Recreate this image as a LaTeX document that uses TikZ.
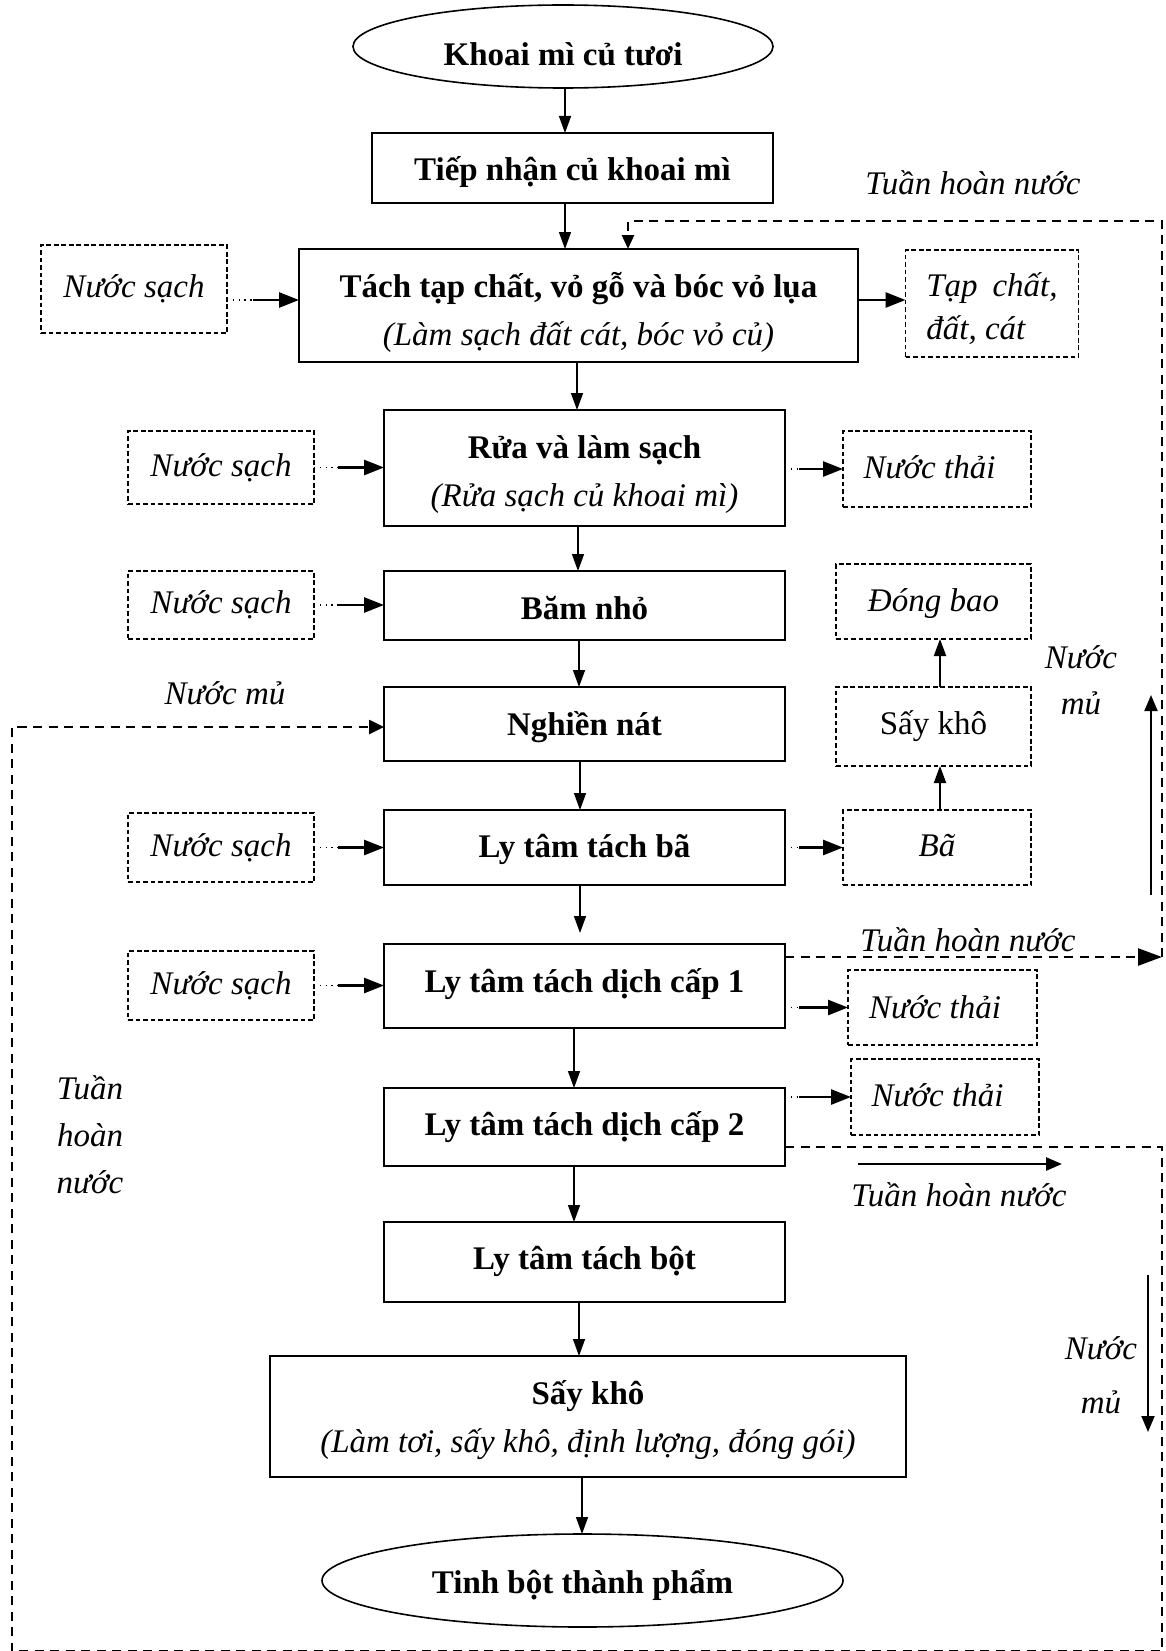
\documentclass[tikz,border=0pt]{standalone}
\usepackage{fontspec}
\setmainfont{Liberation Serif}
\usetikzlibrary{arrows.meta,shapes.geometric,calc}
\newcommand\dgfs{\fontsize{33}{48}\selectfont}
\newcommand\dgdown[2]{\raisebox{-#1}[\height][\depth]{#2}}
\begin{document}
\begin{tikzpicture}[x=1pt,y=-1pt,
  every node/.style={inner sep=0pt, outer sep=0pt},
  mainbox/.style={draw, line width=1.6pt, minimum width=401pt, align=center, font=\dgfs\bfseries},
  oval/.style={draw, ellipse, line width=1.6pt, align=center, font=\dgfs\bfseries},
  dbox/.style={draw, line width=1.3pt, dash pattern=on 4.7pt off 2.8pt, align=center, font=\dgfs\itshape},
  lbl/.style={align=center, font=\dgfs\itshape},
  flow/.style={line width=1.5pt, -{Triangle[length=17pt,width=12pt]}},
  dotl/.style={line width=1.3pt, dash pattern=on 1.3pt off 4.5pt},
  fat/.style={line width=2.7pt, -{Triangle[length=20pt,width=15pt]}},
  loopl/.style={line width=2.6pt, dash pattern=on 9pt off 6.5pt},
  sarr/.style={line width=2pt, -{Triangle[length=16pt,width=13pt]}}
]
\useasboundingbox (0,0) rectangle (1165,1651);

% main column
\node[oval, minimum width=420pt, minimum height=83pt] (e1) at (563,46.5) {\dgdown{8pt}{Khoai mì củ tươi}};
\node[mainbox, minimum height=70pt] (tiep) at (572.5,168) {\dgdown{4.5pt}{Tiếp nhận củ khoai mì}};
\node[mainbox, minimum width=559pt, minimum height=113pt] (tach) at (578.5,305.5)
  {\dgdown{6.5pt}{Tách tạp chất, vỏ gỗ và bóc vỏ lụa}\\\dgdown{6.5pt}{\normalfont\itshape (Làm sạch đất cát, bóc vỏ củ)}};
\node[mainbox, minimum height=116pt] (rua) at (584.5,468)
  {\dgdown{7pt}{Rửa và làm sạch}\\\dgdown{7pt}{\normalfont\itshape (Rửa sạch củ khoai mì)}};
\node[mainbox, minimum height=69pt] (bam) at (584.5,605.5) {\dgdown{3pt}{Băm nhỏ}};
\node[mainbox, minimum height=74pt] (nghien) at (584.5,724) {\dgdown{3pt}{Nghiền nát}};
\node[mainbox, minimum height=75pt] (lyba) at (584.5,847.5) {\dgdown{2pt}{Ly tâm tách bã}};
\node[mainbox, minimum height=84pt] (ly1) at (584.5,986) {\dgdown{-2pt}{Ly tâm tách dịch cấp 1}};
\node[mainbox, minimum height=78pt] (ly2) at (584.5,1127) {Ly tâm tách dịch cấp 2};
\node[mainbox, minimum height=80pt] (lybot) at (584.5,1262) {\dgdown{-1pt}{Ly tâm tách bột}};
\node[mainbox, minimum width=636pt, minimum height=121pt] (say) at (588,1416.5)
  {\dgdown{4pt}{Sấy khô}\\\dgdown{4pt}{\normalfont\itshape (Làm tơi, sấy khô, định lượng, đóng gói)}};
\node[oval, minimum width=521pt, minimum height=93pt] (e2) at (582.5,1580.5) {\dgdown{4pt}{Tinh bột thành phẩm}};

% left dashed boxes
\node[dbox, minimum width=186pt, minimum height=88pt] (ns1) at (134,289) {Nước sạch};
\node[dbox, minimum width=186pt, minimum height=73pt] (ns2) at (221,467.5) {Nước sạch};
\node[dbox, minimum width=186pt, minimum height=68pt] (ns3) at (221,605) {Nước sạch};
\node[dbox, minimum width=186pt, minimum height=69pt] (ns4) at (221,847.5) {Nước sạch};
\node[dbox, minimum width=186pt, minimum height=69pt] (ns5) at (221,985.5) {Nước sạch};

% right dashed boxes
\node[dbox, minimum width=173pt, minimum height=107pt, align=left, font=\fontsize{33}{43}\selectfont\itshape] (tap) at (992,303.5)
  {\dgdown{5pt}{Tạp\hspace{0.45em}chất,}\\\dgdown{5pt}{đất, cát}};
\node[dbox, minimum width=188pt, minimum height=76pt] (nt1) at (937,469) {\dgdown{-2pt}{Nước thải}\hspace{15pt}};
\node[dbox, minimum width=195pt, minimum height=75pt] (dong) at (933.5,601.5) {\dgdown{2pt}{Đóng bao}};
\node[dbox, minimum width=195pt, minimum height=79pt, font=\dgfs\upshape] (say2) at (933.5,726.5) {Sấy khô};
\node[dbox, minimum width=188pt, minimum height=75pt] (ba) at (937,847.5) {\dgdown{-2pt}{Bã}};
\node[dbox, minimum width=189pt, minimum height=75pt] (nt2) at (942.5,1007.5) {Nước thải\hspace{15pt}};
\node[dbox, minimum width=188pt, minimum height=76pt] (nt3) at (945,1097) {\dgdown{-2pt}{Nước thải}\hspace{15pt}};

% main flow arrows
\draw[flow] ([xshift=2pt]e1.south) -- ([xshift=-7.5pt]tiep.north);
\draw[flow] ([xshift=-7.5pt]tiep.south) -- ([xshift=-13.5pt]tach.north);
\draw[flow] ([xshift=-1.5pt]tach.south) -- ([xshift=-7.5pt]rua.north);
\draw[flow] ([xshift=-6.5pt]rua.south) -- ([xshift=-6.5pt]bam.north);
\draw[flow] ([xshift=-5.5pt]bam.south) -- ([xshift=-5.5pt]nghien.north);
\draw[flow] ([xshift=-4.5pt]nghien.south) -- ([xshift=-4.5pt]lyba.north);
\draw[flow, shorten >=11pt] ([xshift=-4.5pt]lyba.south) -- ([xshift=-4.5pt]ly1.north);
\draw[flow] ([xshift=-10.5pt]ly1.south) -- ([xshift=-10.5pt]ly2.north);
\draw[flow] ([xshift=-10.5pt]ly2.south) -- ([xshift=-10.5pt]lybot.north);
\draw[flow] ([xshift=-5.5pt]lybot.south) -- ([xshift=-9pt]say.north);
\draw[flow] ([xshift=-6pt]say.south) -- ([xshift=-0.5pt]e2.north);

% inputs of clean water
\draw[dotl] ([yshift=-11pt]ns1.east) -- ++(26,0) coordinate (i1);
\draw[fat] (i1) -- ([yshift=5.5pt]tach.west);
\draw[dotl] (ns2.east) -- ++(24,0) coordinate (i2);
\draw[fat] (i2) -- (rua.west |- ns2.east);
\draw[dotl] (ns3.east) -- ++(24,0) coordinate (i3);
\draw[fat] (i3) -- (bam.west |- ns3.east);
\draw[dotl] (ns4.east) -- ++(24,0) coordinate (i4);
\draw[fat] (i4) -- (lyba.west |- ns4.east);
\draw[dotl] (ns5.east) -- ++(24,0) coordinate (i5);
\draw[fat] (i5) -- (ly1.west |- ns5.east);

% outputs
\draw[fat] ([yshift=5.5pt]tach.east) -- ([yshift=3.5pt]tap.west);
\draw[dotl] (rua.east |- nt1.west) -- ++(14,0) coordinate (o1);
\draw[fat] (o1) -- (nt1.west);
\draw[dotl] (lyba.east |- ba.west) -- ++(14,0) coordinate (o2);
\draw[fat] (o2) -- (ba.west);
\draw[dotl] (ly1.east |- nt2.west) -- ++(14,0) coordinate (o3);
\draw[fat] (o3) -- (nt2.west);
\draw[dotl] (ly2.east |- nt3.west) -- ++(14,0) coordinate (o4);
\draw[fat] (o4) -- (nt3.west);

% by-product branch
\draw[flow, line width=2pt] ([xshift=3pt]ba.north) -- ([xshift=6.5pt]say2.south);
\draw[flow, line width=2pt] ([xshift=6.5pt]say2.north) -- ([xshift=6.5pt]dong.south);

% recirculation loops
\coordinate (rA) at (1162,957);
\coordinate (rB) at (1162,221);
\coordinate (tA) at (628,221);
\coordinate (rC) at (1162,1147);
\coordinate (rD) at (1162,1651);
\coordinate (lD) at (12,1651);
\coordinate (lA) at (12,727);
\draw[loopl, -{Triangle[length=24pt,width=17pt]}] (ly1.east |- rA) -- (rA);
\draw[loopl, -{Triangle[length=14pt,width=12pt]}] (rA) -- (rB) -- (tA) -- (tA |- tach.north);
\draw[loopl, -{Triangle[length=15pt,width=14pt]}] (ly2.east |- rC) -- (rC) -- (rD) -- (lD) -- (lA) -- (lA -| nghien.west);

% indicator arrows
\coordinate (uA) at (1151,895);
\coordinate (uB) at (1151,695);
\draw[sarr] (uA) -- (uB);
\coordinate (hA) at (858,1164);
\coordinate (hB) at (1062,1164);
\draw[sarr, line width=2.7pt] (hA) -- (hB);
\coordinate (dA) at (1148,1275);
\coordinate (dB) at (1148,1432);
\draw[sarr] (dA) -- (dB);

% labels
\node[lbl] (t1) at (973,183) {Tuần hoàn nước};
\node[lbl] (t2) at (968,940) {Tuần hoàn nước};
\node[lbl] (t3) at (959,1195) {Tuần hoàn nước};
\node[lbl, font=\fontsize{33}{46}\selectfont\itshape] (m1) at (1081,680) {Nước\\mủ};
\node[lbl, font=\fontsize{33}{54}\selectfont\itshape] (m2) at (1101,1375) {Nước\\mủ};
\node[lbl, font=\fontsize{33}{47}\selectfont\itshape] (t4) at (90,1135) {Tuần\\hoàn\\nước};
\node[lbl] (m3) at (225,693) {Nước mủ};
\end{tikzpicture}
\end{document}
